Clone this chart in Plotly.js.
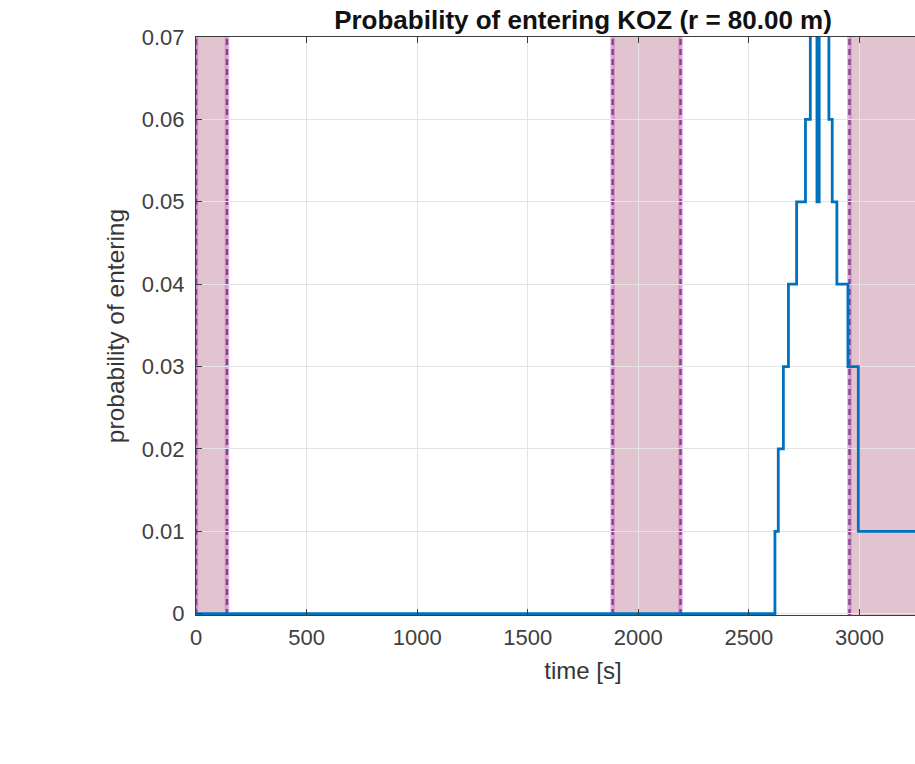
<!DOCTYPE html>
<html>
<head>
<meta charset="utf-8">
<script src="https://cdn.plot.ly/plotly-3.0.1.min.js"></script>
<style>
html, body { margin: 0; padding: 0; background: #fff; overflow: hidden; }
#chart { width: 970px; height: 764px; }
</style>
</head>
<body>
<div id="chart"></div>
<script>
// Probability step series (peaks run above the 0.07 limit)
const timeS = [0, 2618, 2633, 2656, 2679, 2716, 2756, 2778, 2808, 2818, 2862, 2877, 2898, 2948, 2995, 3500];
const probEnter = [0, 0.01, 0.02, 0.03, 0.04, 0.05, 0.06, 0.08, 0.05, 0.08, 0.06, 0.05, 0.04, 0.03, 0.01, 0.01];

// Shaded intervals
const shadeStart = [0, 1884, 2955];
const shadeEnd = [140, 2191, 3500];

// Axis ticks
const xTicks = [0, 500, 1000, 1500, 2000, 2500, 3000, 3500];
const yTicks = [0, 0.01, 0.02, 0.03, 0.04, 0.05, 0.06, 0.07];
const yTickText = ['0', '0.01', '0.02', '0.03', '0.04', '0.05', '0.06', '0.07'];

const FONT = 'Liberation Sans, Arial, Helvetica, sans-serif';

const shapes = [];
shadeStart.forEach((s, i) => {
  shapes.push({
    type: 'rect', xref: 'x', yref: 'paper', x0: s, x1: shadeEnd[i], y0: 0, y1: 1,
    fillcolor: 'rgba(160,60,100,0.3)', line: {width: 0}, layer: 'between'
  });
});
const bounds = [];
shadeStart.forEach((s, i) => { bounds.push(s); bounds.push(shadeEnd[i]); });
bounds.forEach(b => {
  shapes.push({
    type: 'line', xref: 'x', yref: 'paper', x0: b, x1: b, y0: 0, y1: 1,
    line: {color: 'rgba(200,110,200,0.55)', width: 4.5}, layer: 'between'
  });
  shapes.push({
    type: 'line', xref: 'x', yref: 'paper', x0: b, x1: b, y0: 0, y1: 1,
    line: {color: 'rgb(130,70,135)', width: 2.4, dash: '6px,4px'}, layer: 'between'
  });
});

const trace = {
  x: timeS, y: probEnter, type: 'scatter', mode: 'lines',
  line: {color: '#0072BD', width: 2.8, shape: 'hv'},
  hoverinfo: 'x+y'
};

const axisCommon = {
  showgrid: true, gridcolor: '#e4e4e4', gridwidth: 1,
  showline: true, linecolor: '#3c3c3c', linewidth: 1, mirror: 'ticks',
  ticks: 'inside', ticklen: 6, tickwidth: 1, tickcolor: '#3c3c3c',
  zeroline: false,
  tickfont: {family: FONT, size: 22, color: '#404040'}
};

const layout = {
  width: 970, height: 764,
  margin: {l: 196, r: 0, t: 37, b: 149, pad: 0},
  paper_bgcolor: '#ffffff', plot_bgcolor: '#ffffff',
  showlegend: false,
  title: {
    text: '<b>Probability of entering KOZ (r = 80.00 m)</b>',
    font: {family: FONT, size: 26, color: '#111111'},
    x: 0.5, xref: 'paper', xanchor: 'center',
    y: 1 - 20 / 764, yref: 'container', yanchor: 'middle'
  },
  xaxis: Object.assign({}, axisCommon, {
    range: [0, 3500], tickvals: xTicks, ticktext: xTicks.map(String),
    ticklabelstandoff: 3,
    title: {text: 'time [s]', font: {family: FONT, size: 24, color: '#363636'}, standoff: 12}
  }),
  yaxis: Object.assign({}, axisCommon, {
    range: [-0.00015, 0.07], tickvals: yTicks, ticktext: yTickText,
    ticklabelstandoff: 6,
    title: {text: 'probability of entering', font: {family: FONT, size: 24.5, color: '#363636'}, standoff: 10}
  }),
  shapes: shapes
};

Plotly.newPlot('chart', [trace], layout, {displayModeBar: false, staticPlot: true});
</script>
</body>
</html>
